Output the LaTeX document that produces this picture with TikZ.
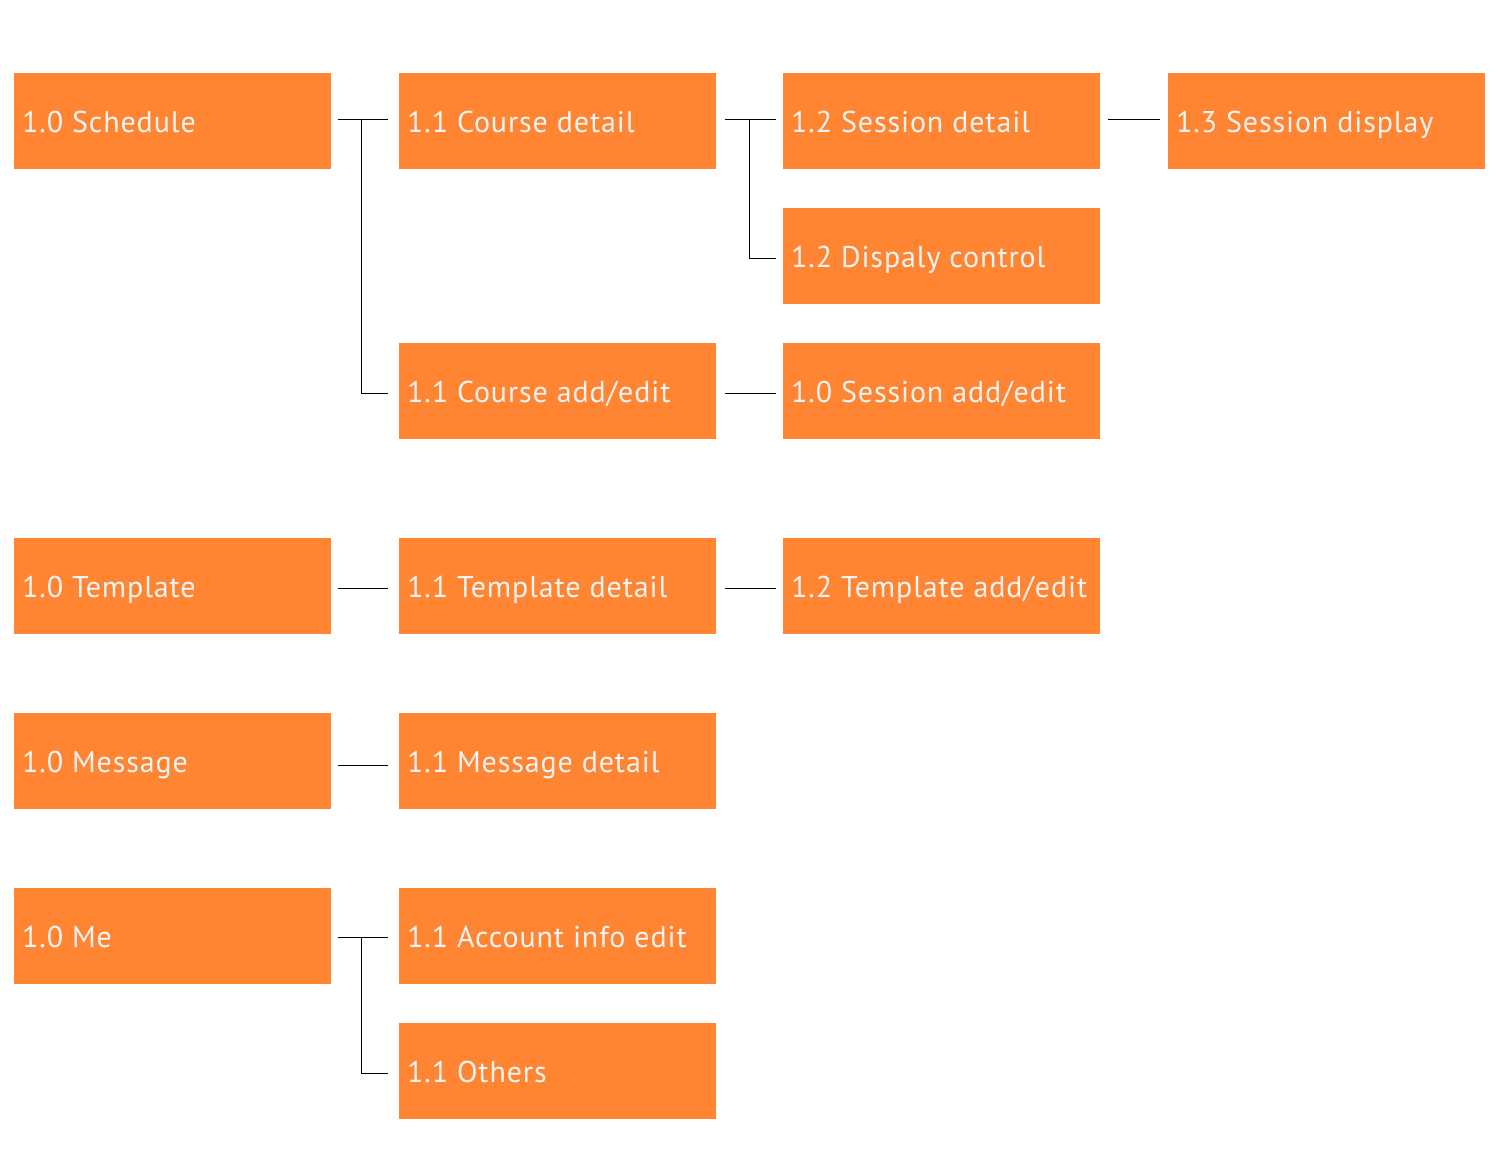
\documentclass[tikz,border=0pt]{standalone}
\usepackage{fontspec}
\setmainfont{PT Sans}
\definecolor{boxorange}{HTML}{FF8533}
\definecolor{boxtext}{HTML}{F4F4F4}
\tikzset{
  menubox/.style={fill=boxorange, draw=none, minimum width=317pt, minimum height=96pt,
    anchor=north west, inner sep=0pt, text=boxtext, text height=30pt, text depth=8pt,
    font=\fontsize{30}{36}\selectfont\addfontfeatures{LetterSpace=3}},
  conn/.style={draw=black, line width=1.2pt},
}
\newcommand{\boxlabel}[1]{\makebox[301pt][l]{#1}}
\begin{document}
\begin{tikzpicture}[x=1pt,y=-1pt]
\useasboundingbox[fill=white] (0,0) rectangle (1500,1170);
% column 1
\node[menubox] (sched) at (14,73) {\boxlabel{1.0 Schedule}};
\node[menubox] (templ) at (14,538) {\boxlabel{1.0 Template}};
\node[menubox] (msg) at (14,713) {\boxlabel{1.0 Message}};
\node[menubox] (me) at (14,888) {\boxlabel{1.0 Me}};
% column 2
\node[menubox] (cdet) at (399,73) {\boxlabel{1.1 Course detail}};
\node[menubox] (cadd) at (399,343) {\boxlabel{1.1 Course add/edit}};
\node[menubox] (tdet) at (399,538) {\boxlabel{1.1 Template detail}};
\node[menubox] (mdet) at (399,713) {\boxlabel{1.1 Message detail}};
\node[menubox] (acct) at (399,888) {\boxlabel{1.1 Account info edit}};
\node[menubox] (oth) at (399,1023) {\boxlabel{1.1 Others}};
% column 3
\node[menubox] (sdet) at (783,73) {\boxlabel{1.2 Session detail}};
\node[menubox] (disp) at (783,208) {\boxlabel{1.2 Dispaly control}};
\node[menubox] (sadd) at (783,343) {\boxlabel{1.0 Session add/edit}};
\node[menubox] (tadd) at (783,538) {\boxlabel{1.2 Template add/edit}};
% column 4
\node[menubox] (sdisp) at (1168,73) {\boxlabel{1.3 Session display}};
% connectors
\draw[conn] ([xshift=7pt,yshift=2pt]sched.east) -- ([xshift=-11pt,yshift=2pt]cdet.west);
\draw[conn] ([xshift=30pt,yshift=2pt]sched.east) |- ([xshift=-11pt,yshift=-2pt]cadd.west);
\draw[conn] ([xshift=9pt,yshift=2pt]cdet.east) -- ([xshift=-7pt,yshift=2pt]sdet.west);
\draw[conn] ([xshift=33pt,yshift=2pt]cdet.east) |- ([xshift=-7pt,yshift=-2pt]disp.west);
\draw[conn] ([xshift=8pt,yshift=2pt]sdet.east) -- ([xshift=-8pt,yshift=2pt]sdisp.west);
\draw[conn] ([xshift=9pt,yshift=-2pt]cadd.east) -- ([xshift=-7pt,yshift=-2pt]sadd.west);
\draw[conn] ([xshift=7pt,yshift=-2pt]templ.east) -- ([xshift=-11pt,yshift=-2pt]tdet.west);
\draw[conn] ([xshift=9pt,yshift=-2pt]tdet.east) -- ([xshift=-7pt,yshift=-2pt]tadd.west);
\draw[conn] ([xshift=7pt,yshift=-4pt]msg.east) -- ([xshift=-11pt,yshift=-4pt]mdet.west);
\draw[conn] ([xshift=7pt,yshift=-1pt]me.east) -- ([xshift=-11pt,yshift=-1pt]acct.west);
\draw[conn] ([xshift=30pt,yshift=-1pt]me.east) |- ([xshift=-11pt,yshift=-2pt]oth.west);
\end{tikzpicture}
\end{document}
